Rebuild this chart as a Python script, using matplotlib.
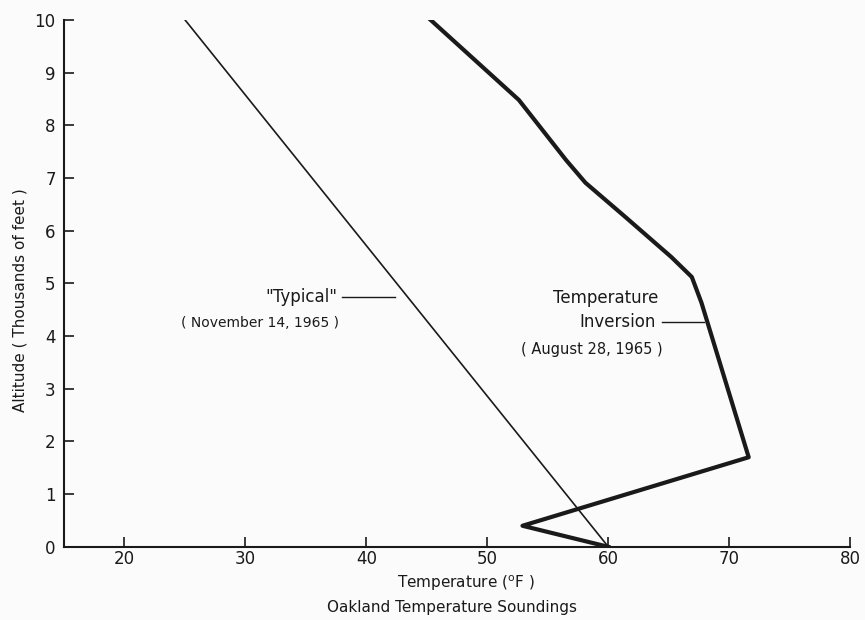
import matplotlib
matplotlib.use("Agg")
import matplotlib.pyplot as plt

# Oakland temperature soundings (temperature in F, altitude in thousands of feet)
typical_temp = [25, 60]
typical_alt = [10, 0]

inversion_temp = [45.3, 52.6, 56.5, 58.1, 61.4, 65.2, 66.9, 67.7, 71.6, 52.9, 60.0]
inversion_alt = [10.0, 8.48, 7.34, 6.91, 6.26, 5.5, 5.12, 4.63, 1.7, 0.4, 0.0]

x_ticks = [20, 30, 40, 50, 60, 70, 80]
y_ticks = [0, 1, 2, 3, 4, 5, 6, 7, 8, 9, 10]

ink = "#1a1a1a"
plt.rcParams["font.family"] = ["DejaVu Sans"]

fig = plt.figure(figsize=(8.65, 6.2), dpi=100)
fig.patch.set_facecolor("#fbfbfb")
ax = fig.add_axes([0.074, 0.118, 0.909, 0.85])
ax.set_facecolor("#fbfbfb")

ax.plot(typical_temp, typical_alt, color=ink, lw=1.2)
ax.plot(inversion_temp, inversion_alt, color=ink, lw=3, solid_joinstyle="round")

ax.set_xlim(15, 80)
ax.set_ylim(0, 10)
ax.set_xticks(x_ticks)
ax.set_yticks(y_ticks)
for s in ["top", "right"]:
    ax.spines[s].set_visible(False)
for s in ["left", "bottom"]:
    ax.spines[s].set_color(ink)
    ax.spines[s].set_linewidth(1.5)
ax.tick_params(direction="in", length=7, width=1.2, colors=ink, labelsize=12)
ax.tick_params(axis="x", pad=2)
ax.tick_params(axis="y", pad=6)

# labels on the curves
ax.text(37.6, 4.74, '"Typical"', ha="right", va="center", fontsize=12, color=ink)
ax.plot([38.0, 42.4], [4.74, 4.74], color=ink, lw=1.0)
ax.text(31.2, 4.25, "( November 14, 1965 )", ha="center", va="center", fontsize=10, color=ink)

ax.text(59.8, 4.72, "Temperature", ha="center", va="center", fontsize=12, color=ink)
ax.text(63.9, 4.27, "Inversion", ha="right", va="center", fontsize=12, color=ink)
ax.plot([64.4, 67.9], [4.27, 4.27], color=ink, lw=1.0)
ax.text(58.6, 3.74, "( August 28, 1965 )", ha="center", va="center", fontsize=10.5, color=ink)

fig.text(0.023, 0.516, "Altitude ( Thousands of feet )", rotation=90,
         ha="center", va="center", fontsize=11, color=ink)
fig.text(0.538, 0.06, r"Temperature ($^{\rm o}$F )", ha="center", va="center",
         fontsize=11, color=ink)
fig.text(0.523, 0.02, "Oakland Temperature Soundings", ha="center", va="center",
         fontsize=11, color=ink)

fig.savefig("out.png", dpi=100, facecolor=fig.get_facecolor())
